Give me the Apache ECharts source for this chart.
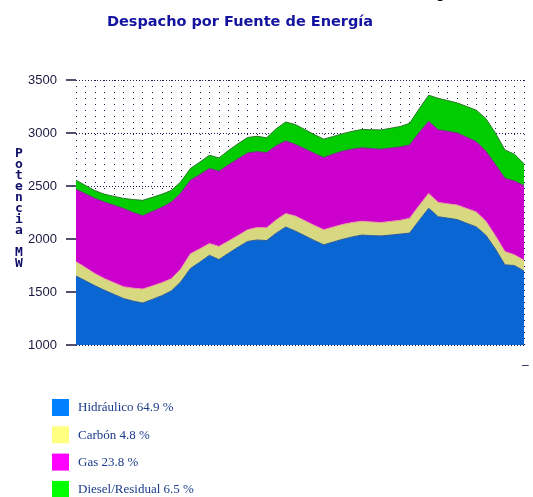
<!DOCTYPE html>
<html>
<head>
<meta charset="utf-8">
<script src="https://cdn.jsdelivr.net/npm/echarts@6/dist/echarts.min.js"></script>
<style>html,body{margin:0;padding:0;background:#fff;}#c{width:533px;height:497px;}</style>
</head>
<body>
<div id="c"></div>
<script>
var categories = [];
for (var h = 0; h < 48; h++) { categories.push(String(h + 1)); }
var hidraulico = [1651,1605,1558,1516,1477,1438,1414,1396,1430,1465,1510,1597,1721,1782,1846,1806,1866,1923,1977,1991,1985,2055,2113,2075,2031,1986,1945,1972,1998,2020,2037,2032,2029,2037,2046,2056,2175,2290,2210,2197,2183,2148,2114,2036,1906,1756,1750,1698];
var carbon     = [135,125,115,110,110,111,122,132,127,123,115,121,139,125,111,124,115,109,110,117,120,125,127,142,142,142,142,141,140,136,131,129,126,129,130,139,140,140,135,135,137,139,141,132,125,125,101,102];
var gas        = [683,696,710,722,731,738,714,692,702,711,723,717,694,701,708,710,719,724,724,716,710,700,685,676,678,680,682,688,692,692,692,692,692,692,692,692,689,680,685,684,680,673,663,660,672,692,696,705];
var diesel     = [86,79,73,74,84,96,122,145,134,123,110,105,111,118,125,125,136,143,147,145,140,160,179,187,182,177,173,167,164,168,174,178,182,187,193,204,224,247,297,290,284,290,297,308,297,267,253,205];
var yTicks = [1000,1500,2000,2500,3000,3500];
var legendNames = ['Hidráulico 64.9 %','Carbón 4.8 %','Gas 23.8 %','Diesel/Residual 6.5 %'];
var areaColors = ['#0a66d2','#d8d880','#cc00cc','#00cc00'];
var lineColors = ['#2a5a9a','#e8a0a0','#7a2a8a','#2a7a2a'];
var legendColors = ['#0080ff','#ffff80','#ff00ff','#00ff00'];

var chart = echarts.init(document.getElementById('c'), null, {renderer:'canvas'});
var seriesData = [hidraulico, carbon, gas, diesel];
var series = seriesData.map(function(d, i){
  return {
    name: legendNames[i], type: 'line', stack: 'total', data: d,
    symbol: 'none', smooth: false,
    lineStyle: {width: 1, color: lineColors[i]},
    itemStyle: {color: areaColors[i]},
    areaStyle: {color: areaColors[i], opacity: 1},
    z: 2
  };
});
var graphics = [
  {type: 'text', left: 15, top: 147, style: {text: 'P\no\nt\ne\nn\nc\ni\na\n\nM\nW', font: 'bold 13px "DejaVu Sans Mono"', fill: '#10106a', lineHeight: 11, textAlign: 'left'}},
  {type: 'text', left: 522, top: 360, style: {text: '–', font: '12px "Liberation Sans"', fill: '#1a1a50'}},
  {type: 'text', left: 436, top: -13, style: {text: 'gía', font: 'bold 14px "Liberation Sans"', fill: '#000000'}}
];
legendNames.forEach(function(n, i){
  var y = 399 + i * 27.3;
  graphics.push({type: 'rect', shape: {x: 52, y: y, width: 17, height: 17}, style: {fill: legendColors[i]}});
  graphics.push({type: 'text', x: 78, y: y + 9, style: {text: n, font: '13px "Liberation Serif"', fill: '#1a3a8a', textVerticalAlign: 'middle', verticalAlign: 'middle'}});
});
chart.setOption({
  animation: false,
  backgroundColor: '#ffffff',
  title: {
    text: 'Despacho por Fuente de Energía', left: 235, top: 10, textAlign: 'center',
    textStyle: {fontFamily: 'DejaVu Sans', fontWeight: 'bold', fontSize: 14.5, color: '#1414a0'}
  },
  grid: {left: 76, right: 9, top: 80, bottom: 152, containLabel: false},
  xAxis: {
    type: 'category', data: categories, boundaryGap: false,
    axisLine: {show: false}, axisTick: {show: false}, axisLabel: {show: false},
    splitLine: {show: true, interval: 0, lineStyle: {color: '#1a1a50', width: 1, type: [1, 5]}}
  },
  yAxis: {
    type: 'value', min: yTicks[0], max: yTicks[yTicks.length-1], interval: 500,
    axisLine: {show: false},
    axisTick: {show: true, length: 10, lineStyle: {color: '#1a1a40', width: 1.5}},
    axisLabel: {color: '#1a1a40', fontFamily: 'Liberation Sans', fontSize: 13, margin: 19, formatter: function(v){ return String(v); }},
    splitLine: {show: true, lineStyle: {color: '#1a1a50', width: 1, type: [1, 2]}}
  },
  graphic: graphics,
  series: series
});
</script>
</body>
</html>
